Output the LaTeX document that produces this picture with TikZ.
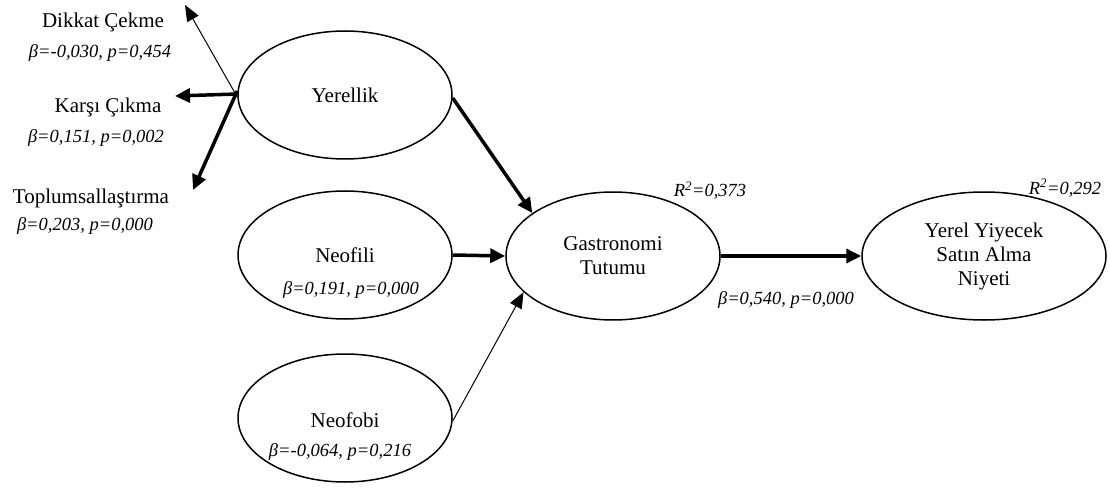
\documentclass[tikz,border=0pt]{standalone}
\usepackage{fontspec}
\setmainfont{Liberation Serif}
\usetikzlibrary{shapes.geometric,arrows.meta}
\begin{document}
\begin{tikzpicture}[x=1pt,y=-1pt,
  latent/.style={ellipse,draw,line width=1.5pt,inner sep=0pt,minimum height=128pt,align=center,font=\fontsize{21}{24}\selectfont},
  lbl/.style={inner sep=0pt,font=\fontsize{21}{24}\selectfont},
  coef/.style={inner sep=0pt,font=\fontsize{18.5}{22}\selectfont\itshape},
  thin/.style={line width=1pt,-{Triangle[length=16pt,width=13pt]}},
  thick/.style={line width=3.5pt,-{Triangle[length=15pt,width=14pt]}}]
\useasboundingbox (0,0) rectangle (1110,489);
% latent variables
\node[latent,minimum width=214pt] (yer) at (345,95) {Yerellik};
\node[latent,minimum width=214pt] (nfl) at (345,255) {};
\node[latent,minimum width=214pt] (nfb) at (345,418) {};
\node[latent,minimum width=214pt] (gas) at (613,256) {Gastronomi\\Tutumu};
\node[latent,minimum width=244pt] (yyn) at (984,256) {Yerel Yiyecek\\Satın Alma\\Niyeti};
% texts inside
\node[lbl] (nfltxt) at (345,255) {Neofili};
\node[coef] (nflc) at (351,290) {β=0,191, p=0,000};
\node[lbl] (nfbtxt) at (345,420) {Neofobi};
\node[coef] (nfbc) at (340,452) {β=-0,064, p=0,216};
% left outputs
\node[lbl] (dik) at (103,22) {Dikkat Çekme};
\node[coef] (dikc) at (100,53) {β=-0,030, p=0,454};
\node[lbl] (kar) at (108,107) {Karşı Çıkma};
\node[coef] (karc) at (96,138) {β=0,151, p=0,002};
\node[lbl] (top) at (91,198) {Toplumsallaştırma};
\node[coef] (topc) at (85,226) {β=0,203, p=0,000};
\node[coef] (gc) at (786,300) {β=0,540, p=0,000};
\node[coef] (r1) at (710,191) {R\textsuperscript{2}=0,373};
\node[coef] (r2) at (1065,188) {R\textsuperscript{2}=0,292};
% free ends
\coordinate (tdik) at (185,5);
\coordinate (tkar) at (175,96);
\coordinate (ttop) at (193,190);
% arrows
\draw[thin] ([yshift=-2pt]yer.west) -- (tdik);
\draw[thick] ([yshift=1pt]yer.west) -- (tkar);
\draw[thick] ([yshift=4pt]yer.west) -- (ttop);
\draw[thick] ([yshift=-3pt]yer.east) -- (gas.152);
\draw[thick] (nfl.east) -- (gas.west);
\draw[thin] ([yshift=-3pt]nfb.east) -- (gas.202);
\draw[thick] (gas.east) -- (yyn.west);
\end{tikzpicture}
\end{document}
